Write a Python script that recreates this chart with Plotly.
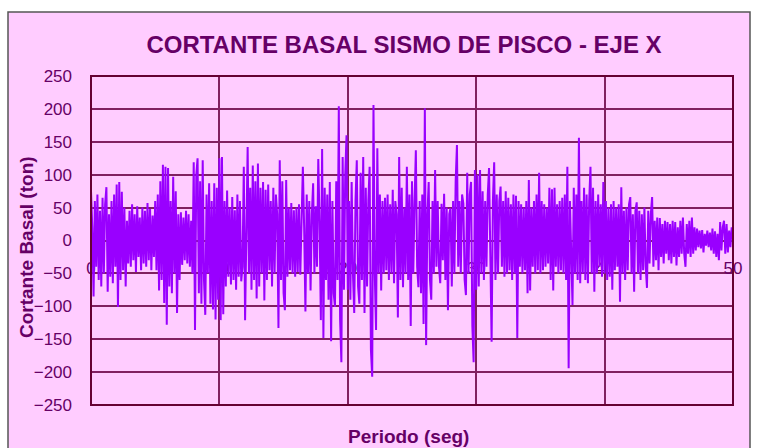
import plotly.graph_objects as go

# Base shear record, Pisco earthquake, X direction (ton), sampled every 0.1 s
DT = 0.1
shear = [
    # 0 s
    75, 20, -85, 60, -40, 70, -60, 45, -70, 65,
    -50, 55, 81, -78, 40, -55, 60, -65, 70, -40,
    85, -101, 89, -60, 74, -45, 50, -70, 30, -35,
    45, -40, 55, -30, 40, -48, 52, -25, 35, -45,
    50, -35, 45, -40, 57, -30, 48, -45, 38, -25,
    60, -45, 70, -76, 90, -60, 115, -95, 112, -128,
    110, -70, 60, -80, 97, -50, 75, -110, 40, -60,
    43, -37, 35, -30, 45, -35, 40, -40, 30, -50,
    119, -136, 100, 125, -80, 90, -96, 122, -60, -113,
    70, -50, 87, -96, 60, -105, 87, -120, 80, -90,
    # 10 s
    125, -121, 127, -112, 60, -70, 76, -55, 50, -67,
    66, -60, 46, -75, 70, -55, 60, -62, -40, 112,
    -121, 60, 142, -50, 80, -75, 114, -60, 90, -88,
    117, -70, 80, -50, 89, -91, 77, -60, 85, -45,
    60, -70, 80, -50, 70, 40, -133, 122, -60, 90,
    -80, -106, 92, -55, 50, -45, 57, -50, 46, -55,
    50, -48, 55, -52, 48, 112, 20, -108, 70, -50,
    60, -76, 40, 87, -50, 52, -40, 124, 30, -121,
    139, -148, 80, -60, 70, -90, 89, -153, 60, -80,
    -101, 90, -60, 204, -120, -185, 127, -75, 100, 160,
    # 20 s
    -75, 60, -90, 89, -50, -110, 60, 122, -70, -96,
    103, -60, 127, -110, 80, -70, 60, 112, -166, -207,
    206, -50, -136, 140, -50, 70, -76, 60, -50, 65,
    -45, 70, -60, 55, -50, 77, -65, 60, 40, -117,
    127, -60, 80, -71, 50, -50, 112, -60, 70, -130,
    90, -50, 60, 137, -40, -71, 60, -80, 70, -127,
    201, -159, 40, 89, -60, -90, 60, -50, 107, -40,
    60, -40, -65, 56, -30, 71, -60, 50, -106, 40,
    49, -70, 60, -50, 90, 145, -40, 60, -50, 70,
    56, -60, -83, 103, -50, 70, 89, -130, -185, 107,
    # 30 s
    -75, 100, -70, 107, -50, 75, -60, 60, -40, 70,
    110, -50, -154, 60, 119, -60, 70, -50, 60, 82,
    -40, 60, -55, 75, -50, 65, -45, 55, -60, 70,
    -50, 68, -148, 60, -40, 55, -50, 50, -45, 60,
    -80, 92, -76, 50, -40, 60, -50, 70, -45, 103,
    -50, 60, -45, 55, -40, 50, -35, 80, -60, 78,
    -76, 80, -40, 55, -50, 60, -45, 65, -50, 70,
    -60, 112, -194, 60, -40, -98, 80, -50, 70, -60,
    156, -65, 60, -50, 80, -60, 70, -65, 60, 112,
    -50, 80, -78, 60, -50, 70, -40, 55, -55, 89,
    # 40 s
    -50, 60, -60, 50, -55, 55, -75, 60, -45, 50,
    -40, 55, -93, 81, -50, 45, -60, 50, -45, 55,
    66, -50, 40, -78, 45, 58, -50, 45, -60, 40,
    -45, 50, -40, -72, 45, -35, 40, 66, -40, 30,
    -30, 35, -45, 34, -25, 25, -35, 30, -20, 28,
    -30, 25, -35, 30, -25, 28, -38, 20, -25, 30,
    -20, 35, -20, -40, 25, -20, 30, -25, 35, -20,
    20, -15, 18, -10, 15, -12, 16, -18, 10, -8,
    15, -10, 12, -15, 18, -20, 14, -25, 10, -30,
    28, -15, 20, 30, -20, 25, -18, 15, -10, 20,
    10,
]
time = [round(i * DT, 1) for i in range(len(shear))]

x_ticks = [0, 10, 20, 30, 40, 50]
y_ticks = [-250, -200, -150, -100, -50, 0, 50, 100, 150, 200, 250]

TITLE = "CORTANTE BASAL SISMO DE PISCO - EJE X"
X_TITLE = "Periodo (seg)"
Y_TITLE = "Cortante Basal (ton)"

PINK = "#FFCCFF"
TEXT = "#660066"
GRID = "#802060"
FRAME = "#660033"
LINE = "#9900FF"
FONT = "Liberation Sans, Arial, sans-serif"

W, H = 758, 448
ML, MR, MT, MB = 91, 25, 76, 43
PW, PH = W - ML - MR, H - MT - MB


def px_x(p):
    return (p - ML) / PW


def px_y(p):
    return (H - MB - p) / PH


fig = go.Figure(
    go.Scatter(
        x=time, y=shear, mode="lines",
        line=dict(color=LINE, width=2),
        hoverinfo="skip", showlegend=False,
    )
)

# outer chart frame
fig.add_shape(
    type="rect", xref="paper", yref="paper", layer="below",
    x0=px_x(8), x1=px_x(750), y0=px_y(470), y1=px_y(12),
    fillcolor=PINK, line=dict(color="#555555", width=1.5),
)
# plot box
fig.add_shape(
    type="rect", xref="paper", yref="paper", layer="above",
    x0=0, x1=1, y0=0, y1=1,
    line=dict(color=FRAME, width=2), fillcolor="rgba(0,0,0,0)",
)

fig.add_annotation(
    text=f"<b>{X_TITLE}</b>", xref="paper", yref="paper",
    x=px_x(408), y=px_y(436), xanchor="center", yanchor="middle",
    showarrow=False,
    font=dict(family=FONT, size=19, color=TEXT),
)
fig.add_annotation(
    text=f"<b>{Y_TITLE}</b>", xref="paper", yref="paper",
    x=px_x(26), y=px_y(247), xanchor="center", yanchor="middle",
    showarrow=False, textangle=-90,
    font=dict(family=FONT, size=19, color=TEXT),
)

fig.update_layout(
    width=W, height=H,
    margin=dict(l=ML, r=MR, t=MT, b=MB),
    paper_bgcolor="white", plot_bgcolor=PINK,
    title=dict(
        text=f"<b>{TITLE}</b>", x=404 / W, xanchor="center",
        y=1 - 45 / H, yanchor="middle",
        font=dict(family=FONT, size=24, color=TEXT),
    ),
    xaxis=dict(
        range=[0, 50], tickvals=x_ticks, ticktext=[str(v) for v in x_ticks],
        showgrid=True, gridcolor=GRID, gridwidth=1.5, zeroline=False,
        anchor="free", position=0.5, showline=True, linecolor=GRID, linewidth=1.5,
        ticks="", ticklabelstandoff=12, layer="below traces",
        tickfont=dict(family=FONT, size=17, color=TEXT),
    ),
    yaxis=dict(
        range=[-250, 250], tickvals=y_ticks,
        showgrid=True, gridcolor=GRID, gridwidth=1.5, zeroline=False,
        showline=False, ticks="", ticklabelstandoff=18,
        tickfont=dict(family=FONT, size=17, color=TEXT),
    ),
)

fig.write_html("out.html")
